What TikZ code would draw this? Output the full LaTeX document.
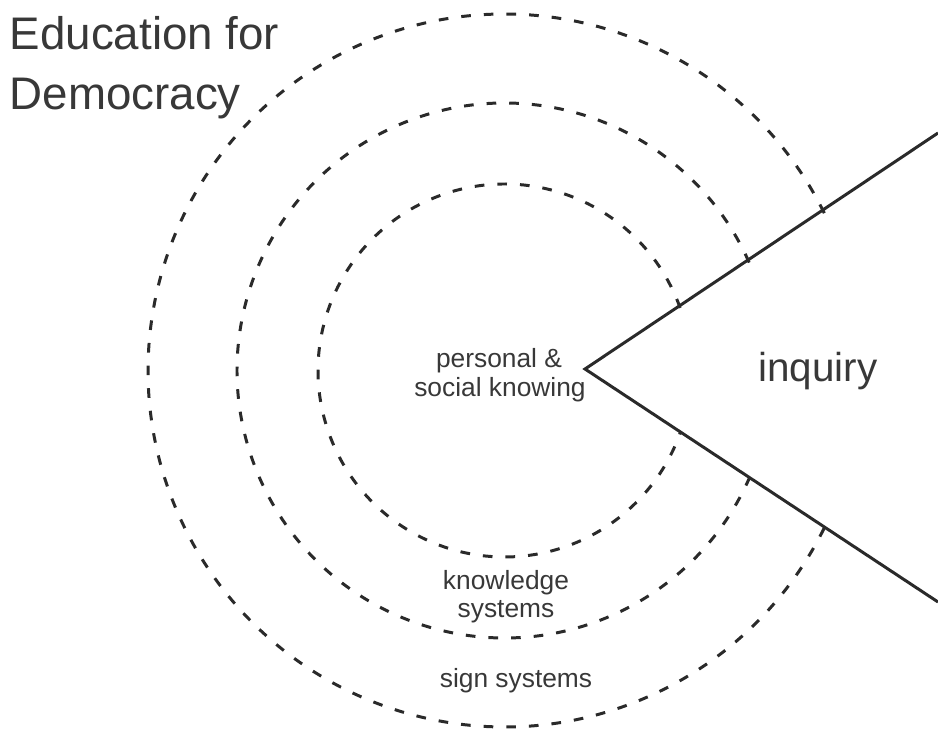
\documentclass[tikz,border=0pt]{standalone}
\usepackage{fontspec}
\setmainfont{Liberation Sans}
\begin{document}
\begin{tikzpicture}[x=0.02cm,y=0.02cm,
  ring/.style={draw=linegray, line width=1.7pt, dash pattern=on 5.5pt off 7.4pt},
  wedge/.style={draw=linegray, line width=1.7pt, line join=miter},
  title/.style={inner sep=0pt, anchor=base west, text=textgray, font=\fontsize{26}{31}\selectfont},
  small/.style={inner sep=0pt, anchor=base, text=textgray, font=\fontsize{15}{18}\selectfont},
  big/.style={inner sep=0pt, anchor=base west, text=textgray, font=\fontsize{23}{28}\selectfont}]
\definecolor{linegray}{HTML}{2A2A2A}
\definecolor{textgray}{HTML}{383838}
\useasboundingbox (0,0) rectangle (938,730);

% centre of the rings and the inquiry wedge
\coordinate (C) at (504.5,359.5);
\coordinate (V) at (585,361);
\coordinate (U) at (938,597);
\coordinate (L) at (938,128);

% three dashed rings, each cut off by the wedge
\draw[ring] (C) ++(19.6:3.73cm) arc[start angle=19.6, end angle=340.72, radius=3.73cm];
\draw[ring] (C) ++(23.8:5.35cm) arc[start angle=23.8, end angle=336.39, radius=5.35cm];
\draw[ring] (C) ++(26.2:7.13cm) arc[start angle=26.2, end angle=333.92, radius=7.13cm];

% the wedge
\draw[wedge] (U) -- (V) -- (L);

% labels
\node[title] (t1) at (9.5,680) {Education for};
\node[title] (t2) at (9.5,620) {Democracy};
\node[small] (p1) at (499,362) {personal \&};
\node[small] (p2) at (500,333) {social knowing};
\node[small] (k1) at (506,140) {knowledge};
\node[small] (k2) at (506,112) {systems};
\node[small] (s1) at (516,42) {sign systems};
\node[big] (inq) at (758,348) {inquiry};
\end{tikzpicture}
\end{document}
